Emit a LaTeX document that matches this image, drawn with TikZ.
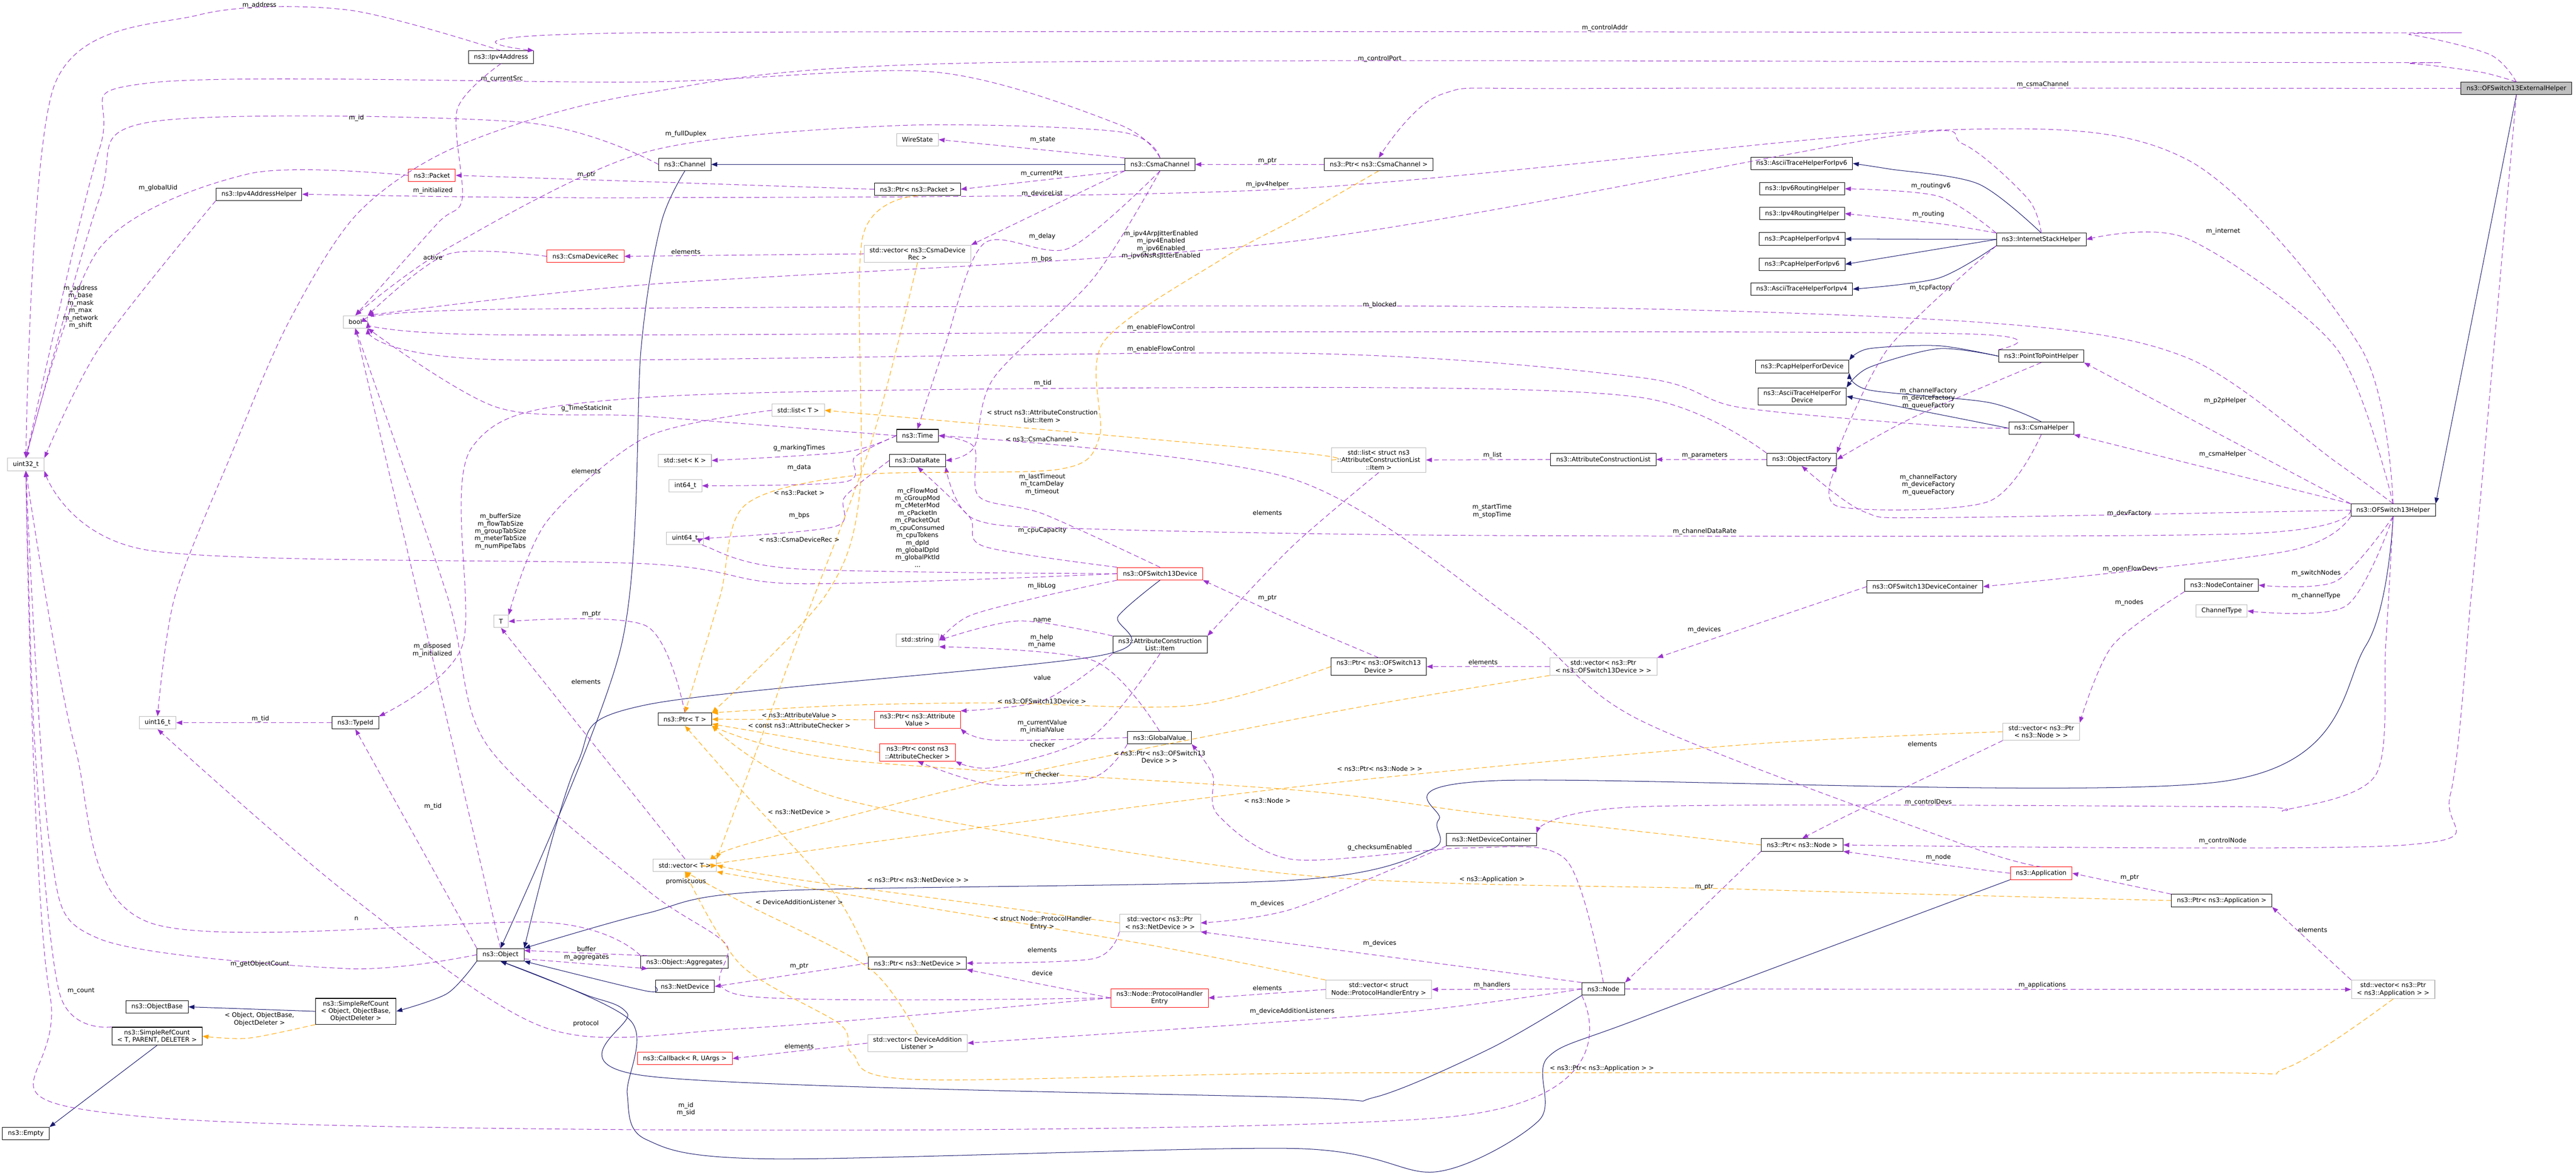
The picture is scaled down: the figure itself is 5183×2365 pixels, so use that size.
\documentclass[tikz,border=0pt]{standalone}
\usepackage{fontspec}
\setmainfont{DejaVu Sans}
\usetikzlibrary{arrows.meta}
\definecolor{purp}{HTML}{9A32CD}
\definecolor{navy}{HTML}{191970}
\definecolor{orng}{HTML}{FFA500}
\tikzset{
 bx/.style={draw=black,fill=white,font=\fontsize{3.6}{4.25}\selectfont,inner xsep=1.1mm,inner ysep=0.5mm,minimum height=2.5mm,align=center,line width=0.3pt},
 gbx/.style={bx,draw=gray!55},
 rbx/.style={bx,draw=red},
 lbl/.style={font=\fontsize{3.6}{4.25}\selectfont,inner sep=0.2mm,align=center},
 usel/.style={draw=purp,line width=0.3pt,dash pattern=on 1mm off 0.6mm,-{Triangle[length=1.2mm,width=0.9mm]}},
 inh/.style={draw=navy,line width=0.3pt,-{Triangle[length=1.2mm,width=0.9mm]}},
 tpl/.style={draw=orng,line width=0.3pt,dash pattern=on 1mm off 0.6mm,-{Triangle[length=1.2mm,width=0.9mm]}},
}
\begin{document}
\begin{tikzpicture}[x=0.01cm,y=-0.01cm]
\useasboundingbox (0,0) rectangle (5183,2365);
% nodes
\node[bx,fill=gray!50] (ext) at (5063,178) {ns3::OFSwitch13ExternalHelper};
\node[bx] (ofh) at (4815,1027) {ns3::OFSwitch13Helper};
\node[bx] (ish) at (4107,482) {ns3::InternetStackHelper};
\node[bx] (p2p) at (4107,717) {ns3::PointToPointHelper};
\node[bx] (csmah) at (4107,862) {ns3::CsmaHelper};
\node[bx] (ofdc) at (3873,1181) {ns3::OFSwitch13DeviceContainer};
\node[bx] (nc) at (4470,1178) {ns3::NodeContainer};
\node[gbx] (ct) at (4470,1230) {ChannelType};
\node[gbx] (vnode) at (4107,1473) {std::vector< ns3::Ptr\\< ns3::Node > >};
\node[rbx] (app) at (4107,1758) {ns3::Application};
\node[bx] (papp) at (4470,1813) {ns3::Ptr< ns3::Application >};
\node[gbx] (vapp) at (4815,1992) {std::vector< ns3::Ptr\\< ns3::Application > >};
\node[bx] (aip6) at (3625,329) {ns3::AsciiTraceHelperForIpv6};
\node[bx] (r6) at (3626,380) {ns3::Ipv6RoutingHelper};
\node[bx] (r4) at (3626,430) {ns3::Ipv4RoutingHelper};
\node[bx] (pc4) at (3626,481) {ns3::PcapHelperForIpv4};
\node[bx] (pc6) at (3626,532) {ns3::PcapHelperForIpv6};
\node[bx] (aip4) at (3625,582) {ns3::AsciiTraceHelperForIpv4};
\node[bx] (pcd) at (3626,738) {ns3::PcapHelperForDevice};
\node[bx] (acd) at (3626,798) {ns3::AsciiTraceHelperFor\\Device};
\node[bx] (of) at (3625,925) {ns3::ObjectFactory};
\node[bx] (acl) at (3226,925) {ns3::AttributeConstructionList};
\node[gbx] (lst) at (2774,926) {std::list< struct ns3\\::AttributeConstructionList\\::Item >};
\node[bx] (pcc) at (2774,331) {ns3::Ptr< ns3::CsmaChannel >};
\node[bx] (cc) at (2334,331) {ns3::CsmaChannel};
\node[bx] (ch) at (1378,331) {ns3::Channel};
\node[gbx] (ws) at (1846,281) {WireState};
\node[bx] (ppk) at (1846,381) {ns3::Ptr< ns3::Packet >};
\node[gbx] (vcdr) at (1846,511) {std::vector< ns3::CsmaDevice\\Rec >};
\node[gbx] (ltt) at (1606,826) {std::list< T >};
\node[bx] (tm) at (1846,877) {ns3::Time};
\node[gbx] (setk) at (1378,927) {std::set< K >};
\node[bx] (dr) at (1846,927) {ns3::DataRate};
\node[gbx] (i64) at (1379,978) {int64\_t};
\node[gbx] (u64) at (1378,1084) {uint64\_t};
\node[rbx] (ofd) at (2334,1155) {ns3::OFSwitch13Device};
\node[bx] (ip4) at (1008,115) {ns3::Ipv4Address};
\node[rbx] (pkt) at (869,353) {ns3::Packet};
\node[bx] (ip4h) at (521,391) {ns3::Ipv4AddressHelper};
\node[rbx] (cdr) at (1178,516) {ns3::CsmaDeviceRec};
\node[gbx] (bool) at (715,648) {bool};
\node[gbx] (u32) at (52,935) {uint32\_t};
\node[gbx] (T) at (1008,1251) {T};
\node[gbx] (u16) at (317,1455) {uint16\_t};
\node[bx] (tid) at (715,1455) {ns3::TypeId};
\node[bx] (obj) at (1007,1922) {ns3::Object};
\node[bx] (ob) at (316,2027) {ns3::ObjectBase};
\node[bx] (src1) at (716,2036) {ns3::SimpleRefCount\\< Object, ObjectBase,\\ObjectDeleter >};
\node[bx] (src2) at (316,2086) {ns3::SimpleRefCount\\< T, PARENT, DELETER >};
\node[bx] (emp) at (52,2282) {ns3::Empty};
\node[bx] (agg) at (1377,1937) {ns3::Object::Aggregates};
\node[bx] (nd) at (1378,1986) {ns3::NetDevice};
\node[rbx] (cb) at (1378,2131) {ns3::Callback< R, UArgs >};
\node[gbx] (str) at (1846,1289) {std::string};
\node[bx] (item) at (2334,1298) {ns3::AttributeConstruction\\List::Item};
\node[bx] (pt) at (1378,1448) {ns3::Ptr< T >};
\node[rbx] (pav) at (1846,1449) {ns3::Ptr< ns3::Attribute\\Value >};
\node[rbx] (pac) at (1846,1515) {ns3::Ptr< const ns3\\::AttributeChecker >};
\node[bx] (gv) at (2333,1485) {ns3::GlobalValue};
\node[gbx] (vt) at (1378,1742) {std::vector< T >};
\node[gbx] (vpnd) at (2334,1858) {std::vector< ns3::Ptr\\< ns3::NetDevice > >};
\node[bx] (pnd) at (1846,1939) {ns3::Ptr< ns3::NetDevice >};
\node[rbx] (phe) at (2333,2009) {ns3::Node::ProtocolHandler\\Entry};
\node[gbx] (vdal) at (1846,2100) {std::vector< DeviceAddition\\Listener >};
\node[bx] (pofd) at (2774,1342) {ns3::Ptr< ns3::OFSwitch13\\Device >};
\node[gbx] (vpofd) at (3226,1342) {std::vector< ns3::Ptr\\< ns3::OFSwitch13Device > >};
\node[bx] (ndc) at (3001,1690) {ns3::NetDeviceContainer};
\node[bx] (pn) at (3626,1701) {ns3::Ptr< ns3::Node >};
\node[bx] (node) at (3226,1991) {ns3::Node};
\node[gbx] (vphe) at (2774,1992) {std::vector< struct\\ Node::ProtocolHandlerEntry >};

% inheritance
\draw[inh] (ext.south) -- (ofh.north east);
\draw[inh] (cc.west) -- (ch.east);
\draw[inh] plot[smooth] coordinates {(ch.south) (1330,450) (1290,700) (1250,1300) (obj.north)};
\draw[inh] plot[smooth] coordinates {(ofd.south) (2250,1240) (2212,1320) (1300,1419) (1160,1540) (obj.north east)};
\draw[inh] plot[smooth] coordinates {(ofh.south) (4760,1300) (4480,1572) (3000,1572) (2895,1650) (2880,1710) (2600,1772) (1550,1794) (1300,1839) (obj.north east)};
\draw[inh] plot[smooth] coordinates {(nd.west) (1300,1995) (obj.south east)};
\draw[inh] plot[smooth] coordinates {(node.south west) (3000,2110) (2766,2209) (2600,2209) (1300,2166) (1262,2040) (1177,2002) (obj.south)};
\draw[inh] plot[smooth] coordinates {(app.south west) (3300,2050) (3114,2129) (3097,2255) (2890,2359) (2600,2312) (1549,2333) (1300,2294) (1262,2203) (1268,2054) (obj.south)};
\draw[inh] plot[smooth] coordinates {(obj.south west) (900,2000) (src1.east)};
\draw[inh] (src1.west) -- (ob.east);
\draw[inh] (src2.south) -- (emp.north east);
\draw[inh] plot[smooth] coordinates {(ish.north) (3980,370) (3800,340) (aip6.east)};
\draw[inh] (ish.west) -- (pc4.east);
\draw[inh] (ish.west) -- (pc6.east);
\draw[inh] plot[smooth] coordinates {(ish.south west) (3900,560) (aip4.east)};
\draw[inh] plot[smooth] coordinates {(p2p.west) (3900,696) (3760,702) (pcd.north east)};
\draw[inh] plot[smooth] coordinates {(p2p.west) (3900,702) (3760,740) (acd.north east)};
\draw[inh] plot[smooth] coordinates {(csmah.north) (4000,810) (3760,785) (pcd.south east)};
\draw[inh] plot[smooth] coordinates {(csmah.west) (3900,834) (acd.east)};

% usage
\draw[usel] plot[smooth] coordinates {(ext.north) (5010,110) (4850,70) (4700,66) (1300,66) (ip4.north east)};
\draw[usel] plot[smooth] coordinates {(ext.north) (4990,145) (4850,128) (4700,126) (2000,126) (1300,187) (928,291) (721,428) (580,650) (464,918) (352,1200) (u16.north)};
\draw[usel] plot[smooth] coordinates {(ext.west) (3200,178) (2900,190) (pcc.north)};
\draw[usel] plot[smooth] coordinates {(ext.south) (5000,900) (4972,1200) (4930,1600) (4841,1701) (pn.east)};
\draw[usel] plot[smooth] coordinates {(ofh.south) (4800,1300) (4780,1560) (4600,1630) (4500,1624) (3300,1624) (ndc.north east)};
\draw[usel] plot[smooth] coordinates {(ofh.north) (4700,700) (4400,480) (ish.east)};
\draw[usel] (ofh.north west) -- (p2p.south east);
\draw[usel] (ofh.north west) -- (csmah.south east);
\draw[usel] plot[smooth] coordinates {(ofh.west) (3900,1042) (3750,1030) (of.south)};
\draw[usel] plot[smooth] coordinates {(ofh.west) (4500,1075) (3000,1078) (2200,1065) (1960,1045) (dr.south east)};
\draw[usel] plot[smooth] coordinates {(ofh.south west) (4600,1110) (ofdc.east)};
\draw[usel] plot[smooth] coordinates {(ofh.south) (4700,1170) (nc.east)};
\draw[usel] plot[smooth] coordinates {(ofh.south) (4720,1220) (ct.east)};
\draw[usel] plot[smooth] coordinates {(ofh.north) (4700,930) (4400,720) (4000,650) (3000,617) (1000,623) (bool.east)};
\draw[usel] plot[smooth] coordinates {(p2p.north west) (3950,672) (2600,668) (1000,674) (bool.east)};
\draw[usel] plot[smooth] coordinates {(csmah.west) (3900,857) (3500,820) (3300,760) (2600,711) (1000,724) (bool.south east)};
\draw[usel] plot[smooth] coordinates {(ish.north) (4080,400) (3950,290) (3800,275) (2600,486) (1300,573) (bool.north east)};
\draw[usel] plot[smooth] coordinates {(ofh.north) (4750,700) (4400,321) (3900,262) (2600,380) (1300,398) (ip4h.east)};
\draw[usel] plot[smooth] coordinates {(cc.north) (2250,250) (1880,145) (1300,165) (300,167) (200,300) (u32.north)};
\draw[usel] plot[smooth] coordinates {(ch.west) (1050,246) (300,246) (200,400) (u32.north)};
\draw[usel] plot[smooth] coordinates {(ip4.north) (700,20) (400,30) (110,170) (u32.north)};
\draw[usel] plot[smooth] coordinates {(pkt.west) (500,350) (200,500) (u32.north)};
\draw[usel] plot[smooth] coordinates {(ip4h.south west) (200,700) (u32.north east)};
\draw[usel] plot[smooth] coordinates {(ofd.west) (1600,1175) (1300,1135) (300,1108) (u32.south east)};
\draw[usel] plot[smooth] coordinates {(obj.west) (700,1950) (200,1890) (100,1700) (u32.south)};
\draw[usel] plot[smooth] coordinates {(agg.north west) (1100,1857) (300,1857) (150,1500) (u32.south)};
\draw[usel] plot[smooth] coordinates {(src2.north west) (120,2000) (70,1500) (u32.south)};
\draw[usel] plot[smooth] coordinates {(node.south west) (2900,2250) (300,2249) (100,2000) (u32.south)};
\draw[usel] (cc.north west) -- (ws.east);
\draw[usel] (cc.south west) -- (ppk.east);
\draw[usel] (cc.south west) -- (vcdr.north east);
\draw[usel] plot[smooth] coordinates {(cc.south) (2150,500) (1980,490) (1900,700) (tm.north)};
\draw[usel] plot[smooth] coordinates {(cc.south) (2200,560) (2000,760) (1960,900) (dr.east)};
\draw[usel] plot[smooth] coordinates {(cc.north) (2250,265) (1800,253) (1300,306) (900,500) (bool.north)};
\draw[usel] (pcc.west) -- (cc.east);
\draw[usel] (ppk.west) -- (pkt.east);
\draw[usel] (vcdr.west) -- (cdr.east);
\draw[usel] plot[smooth] coordinates {(cdr.west) (900,512) (bool.north east)};
\draw[usel] plot[smooth] coordinates {(ip4.south) (920,220) (930,400) (880,450) (bool.north)};
\draw[usel] plot[smooth] coordinates {(tm.west) (1300,838) (1000,820) (bool.south east)};
\draw[usel] (obj.north) -- (bool.south);
\draw[usel] plot[smooth] coordinates {(phe.west) (1500,2005) (1460,1900) (1300,1790) (980,1500) (900,1200) (bool.south)};
\draw[usel] plot[smooth] coordinates {(ofd.west) (1600,1145) (1420,1100) (u64.east)};
\draw[usel] plot[smooth] coordinates {(ofd.north west) (1980,1100) (1950,1040) (dr.south)};
\draw[usel] plot[smooth] coordinates {(ofd.north) (2100,1035) (1970,1000) (1960,900) (tm.east)};
\draw[usel] plot[smooth] coordinates {(ofd.south west) (2100,1200) (1950,1240) (str.east)};
\draw[usel] plot[smooth] coordinates {(dr.west) (1700,1000) (1680,1060) (u64.east)};
\draw[usel] plot[smooth] coordinates {(tm.west) (1700,910) (setk.east)};
\draw[usel] plot[smooth] coordinates {(tm.west) (1720,920) (1700,970) (i64.east)};
\draw[usel] plot[smooth] coordinates {(ltt.west) (1300,880) (1100,1050) (T.north east)};
\draw[usel] plot[smooth] coordinates {(pt.north) (1300,1260) (T.east)};
\draw[usel] (vt.north) -- (T.south);
\draw[usel] plot[smooth] coordinates {(of.north west) (3300,800) (2600,780) (1300,800) (950,900) (930,1300) (tid.north east)};
\draw[usel] (obj.north west) -- (tid.south);
\draw[usel] (tid.west) -- (u16.east);
\draw[usel] plot[smooth] coordinates {(phe.west) (1500,2070) (1100,2070) (700,1800) (u16.south)};
\draw[usel] (agg.170) -- (obj.10);
\draw[usel] (obj.-10) -- (agg.190);
\draw[usel] plot[smooth] coordinates {(item.north west) (2050,1250) (str.east)};
\draw[usel] plot[smooth] coordinates {(gv.north) (2200,1330) (str.south east)};
\draw[usel] plot[smooth] coordinates {(item.south west) (2100,1410) (pav.north east)};
\draw[usel] plot[smooth] coordinates {(item.south) (2200,1480) (2000,1545) (pac.south east)};
\draw[usel] plot[smooth] coordinates {(gv.west) (2000,1490) (pav.south east)};
\draw[usel] plot[smooth] coordinates {(gv.south west) (2200,1565) (2000,1580) (pac.south)};
\draw[usel] plot[smooth] coordinates {(lst.south) (2600,1100) (item.north east)};
\draw[usel] plot[smooth] coordinates {(pofd.north) (2600,1250) (ofd.south east)};
\draw[usel] (vpofd.west) -- (pofd.east);
\draw[usel] (ofdc.west) -- (vpofd.north east);
\draw[usel] plot[smooth] coordinates {(nc.south west) (4250,1300) (vnode.north east)};
\draw[usel] plot[smooth] coordinates {(vnode.south west) (3720,1640) (pn.north)};
\draw[usel] (pn.south west) -- (node.north east);
\draw[usel] plot[smooth] coordinates {(app.west) (3900,1740) (pn.south east)};
\draw[usel] (papp.north west) -- (app.east);
\draw[usel] (vapp.north west) -- (papp.south east);
\draw[usel] (node.east) -- (vapp.west);
\draw[usel] (node.west) -- (vphe.east);
\draw[usel] (vphe.west) -- (phe.east);
\draw[usel] (node.north west) -- (vpnd.south east);
\draw[usel] plot[smooth] coordinates {(ndc.south west) (2600,1830) (vpnd.east)};
\draw[usel] plot[smooth] coordinates {(vpnd.south west) (2200,1930) (pnd.east)};
\draw[usel] (phe.west) -- (pnd.south east);
\draw[usel] (pnd.west) -- (nd.east);
\draw[usel] plot[smooth] coordinates {(node.west) (2800,2040) (vdal.east)};
\draw[usel] (vdal.west) -- (cb.east);
\draw[usel] plot[smooth] coordinates {(node.north) (3150,1730) (2950,1707) (2600,1730) (2450,1640) (2440,1560) (gv.south east)};
\draw[usel] plot[smooth] coordinates {(app.north) (3950,1700) (3300,1450) (3050,1250) (2600,964) (tm.east)};
\draw[usel] plot[smooth] coordinates {(ish.north west) (3900,395) (r6.east)};
\draw[usel] plot[smooth] coordinates {(ish.north west) (3900,450) (r4.east)};
\draw[usel] plot[smooth] coordinates {(ish.south west) (3800,700) (of.north east)};
\draw[usel] plot[smooth] coordinates {(p2p.south) (3850,840) (of.east)};
\draw[usel] plot[smooth] coordinates {(csmah.south) (4000,1010) (3700,1020) (of.south east)};
\draw[usel] (of.west) -- (acl.east);
\draw[usel] (acl.west) -- (lst.east);

% templates
\draw[tpl] plot[smooth] coordinates {(ppk.south) (1735,480) (1730,990) (1660,1200) (pt.north east)};
\draw[tpl] plot[smooth] coordinates {(vcdr.south) (1750,900) (1600,1300) (vt.north east)};
\draw[tpl] plot[smooth] coordinates {(pcc.south) (2600,444) (2461,520) (2220,689) (2212,880) (2129,945) (1731,956) (1499,1017) (1449,1200) (pt.north)};
\draw[tpl] plot[smooth] coordinates {(lst.west) (2600,910) (ltt.east)};
\draw[tpl] (pav.west) -- (pt.east);
\draw[tpl] (pac.west) -- (pt.-10);
\draw[tpl] plot[smooth] coordinates {(pofd.west) (2400,1420) (2000,1415) (1700,1420) (pt.north east)};
\draw[tpl] plot[smooth] coordinates {(vpofd.south west) (2700,1430) (2000,1570) (1500,1700) (vt.north east)};
\draw[tpl] plot[smooth] coordinates {(pn.west) (3000,1640) (2600,1590) (1700,1530) (pt.south east)};
\draw[tpl] plot[smooth] coordinates {(vnode.west) (3500,1500) (2600,1585) (1500,1730) (vt.east)};
\draw[tpl] plot[smooth] coordinates {(pnd.north west) (1680,1800) (1500,1600) (pt.south)};
\draw[tpl] plot[smooth] coordinates {(vpnd.west) (1600,1770) (vt.east)};
\draw[tpl] plot[smooth] coordinates {(vdal.north) (1750,1950) (1500,1820) (vt.south)};
\draw[tpl] plot[smooth] coordinates {(vphe.north west) (2300,1900) (1700,1800) (vt.south east)};
\draw[tpl] plot[smooth] coordinates {(papp.west) (3500,1790) (2600,1760) (1700,1610) (pt.south east)};
\draw[tpl] plot[smooth] coordinates {(vapp.south) (4600,2150) (4400,2160) (2700,2160) (1839,2173) (1715,2121) (1690,2062) (1491,1943) (vt.south)};
\draw[tpl] plot[smooth] coordinates {(src1.south west) (500,2090) (src2.east)};

% labels
\node[lbl] (l1) at (3229,56) {m\_controlAddr};
\node[lbl] (l2) at (2776,118) {m\_controlPort};
\node[lbl] (l3) at (4110,170) {m\_csmaChannel};
\node[lbl] (l4) at (4472,1693) {m\_controlNode};
\node[lbl] (l5) at (3880,1615) {m\_controlDevs};
\node[lbl] (l6) at (4473,466) {m\_internet};
\node[lbl] (l7) at (4477,807) {m\_p2pHelper};
\node[lbl] (l8) at (4472,915) {m\_csmaHelper};
\node[lbl] (l9) at (4284,1034) {m\_devFactory};
\node[lbl] (l10) at (3430,1070) {m\_channelDataRate};
\node[lbl] (l11) at (4286,1146) {m\_openFlowDevs};
\node[lbl] (l12) at (4660,1154) {m\_switchNodes};
\node[lbl] (l13) at (4660,1200) {m\_channelType};
\node[lbl] (l14) at (2776,614) {m\_blocked};
\node[lbl] (l15) at (2336,660) {m\_enableFlowControl};
\node[lbl] (l16) at (2336,703) {m\_enableFlowControl};
\node[lbl] (l17) at (2336,493) {m\_ipv4ArpJitterEnabled\\m\_ipv4Enabled\\m\_ipv6Enabled\\m\_ipv6NsRsJitterEnabled};
\node[lbl] (l18) at (2550,371) {m\_ipv4helper};
\node[lbl] (l19) at (1010,159) {m\_currentSrc};
\node[lbl] (l20) at (717,238) {m\_id};
\node[lbl] (l21) at (522,11) {m\_address};
\node[lbl] (l22) at (318,379) {m\_globalUid};
\node[lbl] (l23) at (162,618) {m\_address\\m\_base\\m\_mask\\m\_max\\m\_network\\m\_shift};
\node[lbl] (l24) at (1007,1070) {m\_bufferSize\\m\_flowTabSize\\m\_groupTabSize\\m\_meterTabSize\\m\_numPipeTabs};
\node[lbl] (l25) at (523,1941) {m\_getObjectCount};
\node[lbl] (l26) at (717,1849) {n};
\node[lbl] (l27) at (163,1995) {m\_count};
\node[lbl] (l28) at (1380,2233) {m\_id\\m\_sid};
\node[lbl] (l29) at (2098,282) {m\_state};
\node[lbl] (l30) at (2096,350) {m\_currentPkt};
\node[lbl] (l31) at (2097,390) {m\_deviceList};
\node[lbl] (l32) at (2097,476) {m\_delay};
\node[lbl] (l33) at (2096,522) {m\_bps};
\node[lbl] (l34) at (1380,270) {m\_fullDuplex};
\node[lbl] (l35) at (2550,324) {m\_ptr};
\node[lbl] (l36) at (1180,352) {m\_ptr};
\node[lbl] (l37) at (1380,507) {elements};
\node[lbl] (l38) at (871,518) {active};
\node[lbl] (l39) at (871,384) {m\_initialized};
\node[lbl] (l40) at (1180,822) {g\_TimeStaticInit};
\node[lbl] (l41) at (870,1309) {m\_disposed\\m\_initialized};
\node[lbl] (l42) at (1380,1775) {promiscuous};
\node[lbl] (l43) at (1846,1062) {m\_cFlowMod\\m\_cGroupMod\\m\_cMeterMod\\m\_cPacketIn\\m\_cPacketOut\\m\_cpuConsumed\\m\_cpuTokens\\m\_dpId\\m\_globalDpId\\m\_globalPktId\\...};
\node[lbl] (l44) at (2097,1068) {m\_cpuCapacity};
\node[lbl] (l45) at (2097,975) {m\_lastTimeout\\m\_tcamDelay\\m\_timeout};
\node[lbl] (l46) at (2096,1180) {m\_libLog};
\node[lbl] (l47) at (1608,1038) {m\_bps};
\node[lbl] (l48) at (1608,902) {g\_markingTimes};
\node[lbl] (l49) at (1608,942) {m\_data};
\node[lbl] (l50) at (1179,948) {elements};
\node[lbl] (l51) at (1190,1236) {m\_ptr};
\node[lbl] (l52) at (1179,1372) {elements};
\node[lbl] (l53) at (2098,772) {m\_tid};
\node[lbl] (l54) at (871,1624) {m\_tid};
\node[lbl] (l55) at (524,1447) {m\_tid};
\node[lbl] (l56) at (1179,2061) {protocol};
\node[lbl] (l57) at (1180,1910) {buffer};
\node[lbl] (l58) at (1180,1928) {m\_aggregates};
\node[lbl] (l59) at (2097,1248) {name};
\node[lbl] (l60) at (2096,1291) {m\_help\\m\_name};
\node[lbl] (l61) at (2097,1364) {value};
\node[lbl] (l62) at (2097,1499) {checker};
\node[lbl] (l63) at (2097,1463) {m\_currentValue\\m\_initialValue};
\node[lbl] (l64) at (2097,1560) {m\_checker};
\node[lbl] (l65) at (2550,1032) {elements};
\node[lbl] (l66) at (2550,1204) {m\_ptr};
\node[lbl] (l67) at (2984,1333) {elements};
\node[lbl] (l68) at (3429,1268) {m\_devices};
\node[lbl] (l69) at (4284,1213) {m\_nodes};
\node[lbl] (l70) at (3868,1498) {elements};
\node[lbl] (l71) at (3429,1786) {m\_ptr};
\node[lbl] (l72) at (3900,1726) {m\_node};
\node[lbl] (l73) at (4285,1767) {m\_ptr};
\node[lbl] (l74) at (4653,1872) {elements};
\node[lbl] (l75) at (4109,1983) {m\_applications};
\node[lbl] (l76) at (3002,1983) {m\_handlers};
\node[lbl] (l77) at (2550,1989) {elements};
\node[lbl] (l78) at (2776,1899) {m\_devices};
\node[lbl] (l79) at (2550,1819) {m\_devices};
\node[lbl] (l80) at (2097,1912) {elements};
\node[lbl] (l81) at (2097,1959) {device};
\node[lbl] (l82) at (1608,1945) {m\_ptr};
\node[lbl] (l83) at (2600,2036) {m\_deviceAdditionListeners};
\node[lbl] (l84) at (1608,2106) {elements};
\node[lbl] (l85) at (2776,1707) {g\_checksumEnabled};
\node[lbl] (l86) at (3002,1029) {m\_startTime\\m\_stopTime};
\node[lbl] (l87) at (3885,375) {m\_routingv6};
\node[lbl] (l88) at (3880,432) {m\_routing};
\node[lbl] (l89) at (3885,580) {m\_tcpFactory};
\node[lbl] (l90) at (3880,802) {m\_channelFactory\\m\_deviceFactory\\m\_queueFactory};
\node[lbl] (l91) at (3880,976) {m\_channelFactory\\m\_deviceFactory\\m\_queueFactory};
\node[lbl] (l92) at (3430,917) {m\_parameters};
\node[lbl] (l93) at (3003,917) {m\_list};
\node[lbl] (t1) at (1608,992) {< ns3::Packet >};
\node[lbl] (t2) at (1608,1086) {< ns3::CsmaDeviceRec >};
\node[lbl] (t3) at (2097,884) {< ns3::CsmaChannel >};
\node[lbl] (t4) at (2097,838) {< struct ns3::AttributeConstruction\\List::Item >};
\node[lbl] (t5) at (1608,1440) {< ns3::AttributeValue >};
\node[lbl] (t6) at (1608,1460) {< const ns3::AttributeChecker >};
\node[lbl] (t7) at (2096,1412) {< ns3::OFSwitch13Device >};
\node[lbl] (t8) at (2333,1524) {< ns3::Ptr< ns3::OFSwitch13\\Device > >};
\node[lbl] (t9) at (2550,1612) {< ns3::Node >};
\node[lbl] (t10) at (2776,1548) {< ns3::Ptr< ns3::Node > >};
\node[lbl] (t11) at (1608,1635) {< ns3::NetDevice >};
\node[lbl] (t12) at (1847,1771) {< ns3::Ptr< ns3::NetDevice > >};
\node[lbl] (t13) at (1608,1816) {< DeviceAdditionListener >};
\node[lbl] (t14) at (2097,1858) {< struct Node::ProtocolHandler\\Entry >};
\node[lbl] (t15) at (3002,1771) {< ns3::Application >};
\node[lbl] (t16) at (3223,2151) {< ns3::Ptr< ns3::Application > >};
\node[lbl] (t17) at (522,2052) {< Object, ObjectBase,\\ObjectDeleter >};
\end{tikzpicture}
\end{document}
